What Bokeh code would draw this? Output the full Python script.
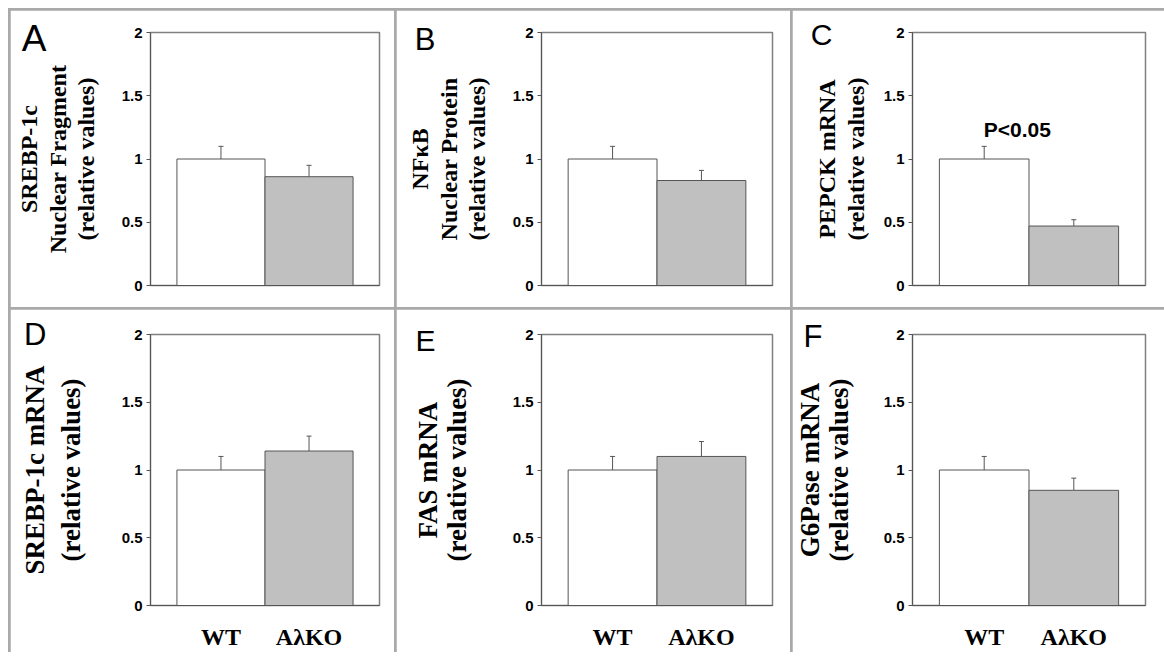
from bokeh.plotting import figure
from bokeh.models import (ColumnDataSource, FactorRange, Range1d, FixedTicker,
                          NumeralTickFormatter, Whisker, TeeHead, Label, LinearAxis)
from bokeh.layouts import gridplot
from bokeh.embed import file_html
from bokeh.resources import INLINE

# ---------------- data ----------------
groups = ["WT", "AλKO"]
panel_letters = ["A", "B", "C", "D", "E", "F"]
y_titles = [
    "SREBP-1c\nNuclear Fragment\n(relative values)",
    "NFκB\nNuclear Protein\n(relative values)",
    "PEPCK mRNA\n(relative values)",
    "SREBP-1c mRNA\n(relative values)",
    "FAS mRNA\n(relative values)",
    "G6Pase mRNA\n(relative values)",
]
wt_values = [1.0, 1.0, 1.0, 1.0, 1.0, 1.0]
wt_errors = [0.10, 0.10, 0.10, 0.10, 0.10, 0.10]
ko_values = [0.86, 0.83, 0.47, 1.14, 1.10, 0.85]
ko_errors = [0.09, 0.08, 0.05, 0.11, 0.11, 0.09]
y_ticks = [0, 0.5, 1, 1.5, 2]
significance = ["", "", "P<0.05", "", "", ""]

# ---------------- layout / style ----------------
col_widths = [384, 394, 372]
row_heights = [297, 343]
borders = [  # left, right, top, bottom
    (140, 12, 22, 20), (145, 17, 18, 22), (120, 19, 19, 21),
    (115, 15, 25, 38), (122, 18, 25, 39), (114, 4, 23, 41),
]
label_standoffs = [20, 20, 12, 33, 38, 27]
title_sizes = ["24px", "24px", "24px", "27px", "27px", "27px"]
title_line_heights = [1.08, 1.08, 1.1, 1.2, 0.95, 0.95]
# panel letter: standoff (negative pulls it over the title column) and
# height of its centre above the frame bottom, in pixels
letter_standoffs = [-33, -31, -21, -30, -25, -30]
letter_heights = [249, 250, 255, 286, 273, 277]
letter_sizes = ["37px", "31px", "30px", "31px", "30px", "31px"]
bar_colors = ["white", "#c0c0c0"]
AX = "#555555"
PAD = 0.3

figs = []
for i in range(6):
    r, c = divmod(i, 3)
    bl, br, bt, bb = borders[i]
    fh = row_heights[r] - bt - bb
    p = figure(width=col_widths[c], height=row_heights[r],
               x_range=FactorRange(factors=groups, range_padding=PAD),
               y_range=Range1d(0, 2),
               output_backend="svg", toolbar_location=None,
               min_border_left=bl, min_border_right=br,
               min_border_top=bt, min_border_bottom=bb)
    p.background_fill_color = "white"
    p.border_fill_color = "white"
    p.outline_line_color = "#808080"
    p.outline_line_width = 1.5
    p.xgrid.grid_line_color = None
    p.ygrid.grid_line_color = None

    src = ColumnDataSource(dict(
        group=groups,
        value=[wt_values[i], ko_values[i]],
        upper=[wt_values[i] + wt_errors[i], ko_values[i] + ko_errors[i]],
        color=bar_colors,
    ))
    p.vbar(x="group", top="value", width=1.0, source=src,
           fill_color="color", line_color=AX, line_width=1)
    p.add_layout(Whisker(base="group", lower="value", upper="upper", source=src,
                         dimension="height", line_color=AX, line_width=1,
                         lower_head=None,
                         upper_head=TeeHead(size=5, line_color=AX, line_width=1)))

    # y axis
    yax = p.yaxis[0]
    yax.ticker = FixedTicker(ticks=y_ticks)
    yax.formatter = NumeralTickFormatter(format="0.[0]")
    yax.axis_line_color = AX
    yax.major_tick_line_color = AX
    yax.major_tick_out = 4
    yax.major_tick_in = 0
    yax.minor_tick_line_color = None
    yax.major_label_standoff = 4
    yax.major_label_text_font = "Liberation Sans"
    yax.major_label_text_font_style = "bold"
    yax.major_label_text_font_size = "15px"
    yax.major_label_text_color = "black"
    yax.axis_label = y_titles[i]
    yax.axis_label_text_font = "Liberation Serif"
    yax.axis_label_text_font_style = "bold"
    yax.axis_label_text_font_size = title_sizes[i]
    yax.axis_label_text_line_height = title_line_heights[i]
    yax.axis_label_text_color = "black"
    yax.axis_label_standoff = label_standoffs[i]

    # x axis
    xax = p.xaxis[0]
    xax.axis_line_color = AX
    xax.major_tick_line_color = None
    xax.minor_tick_line_color = None
    if r == 0:
        xax.ticker = FixedTicker(ticks=[])
        xax.major_label_standoff = 0
    else:
        xax.major_label_standoff = 12
        xax.major_label_text_font = "Liberation Serif"
        xax.major_label_text_font_style = "bold"
        xax.major_label_text_font_size = "24px"
        xax.major_label_text_color = "black"

    # panel letter, drawn as the single tick label of an outer helper axis
    ly = min(2.0, letter_heights[i] * 2.0 / fh)
    lax = LinearAxis(ticker=FixedTicker(ticks=[ly]),
                     major_label_overrides={ly: panel_letters[i]},
                     axis_line_color=None, major_tick_line_color=None,
                     minor_tick_line_color=None, major_tick_out=0, major_tick_in=0,
                     major_label_standoff=letter_standoffs[i],
                     major_label_text_font="Liberation Sans",
                     major_label_text_font_size=letter_sizes[i],
                     major_label_text_color="black")
    p.add_layout(lax, "left")

    if significance[i]:
        p.add_layout(Label(x=1.0 - 0.13, y=wt_values[i] + wt_errors[i] + 0.13,
                           text=significance[i], text_font="Liberation Sans",
                           text_font_style="bold", text_font_size="21px",
                           text_color="black", text_align="center",
                           text_baseline="alphabetic"))
    figs.append(p)

g = gridplot([figs[0:3], figs[3:6]], toolbar_location=None)
g.spacing = 2
g.styles = {"background-color": "#a9a9a9",
            "border-top": "2px solid #a9a9a9",
            "border-left": "2px solid #a9a9a9",
            "margin-left": "8px",
            "margin-top": "8px"}

open("out.html", "w").write(file_html(g, INLINE))
